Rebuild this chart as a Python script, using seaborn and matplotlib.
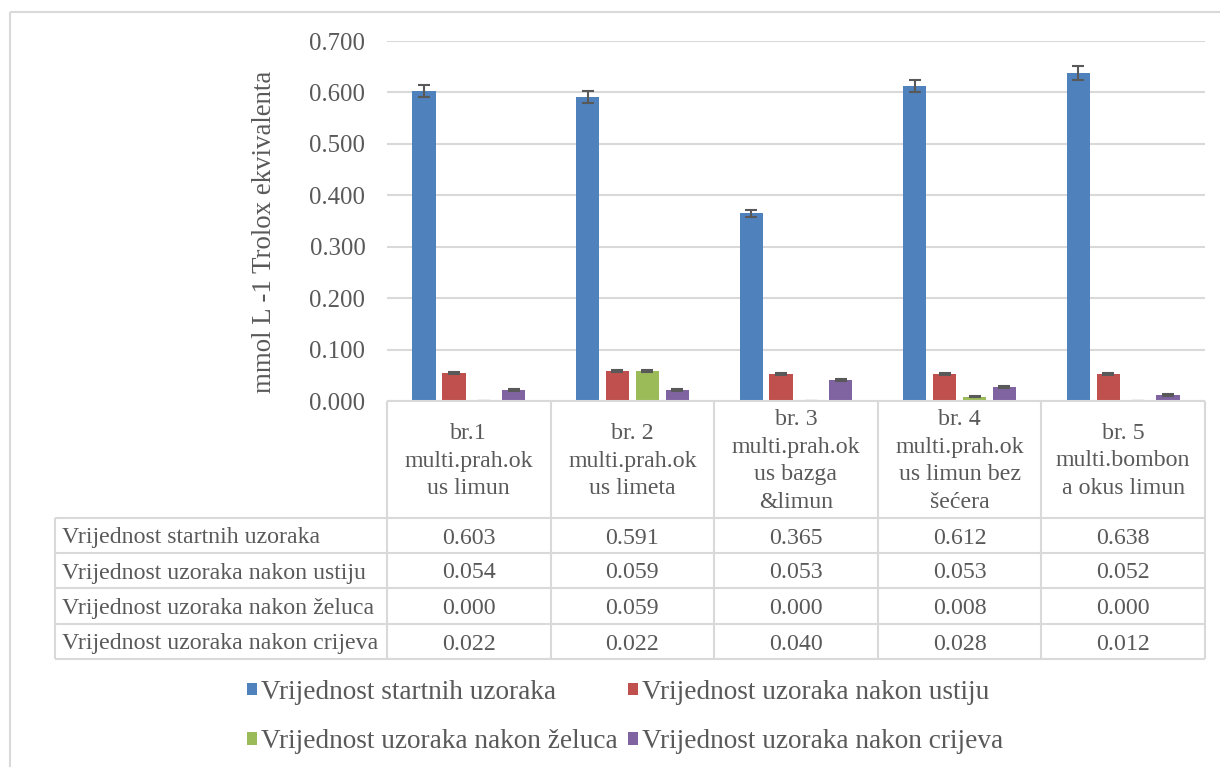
import matplotlib
matplotlib.use("Agg")
import matplotlib.pyplot as plt
import matplotlib.transforms as mtransforms
from matplotlib.lines import Line2D
import seaborn as sns
import pandas as pd

# ---------------- data ----------------
categories = [
    "br.1\nmulti.prah.ok\nus limun",
    "br. 2\nmulti.prah.ok\nus limeta",
    "br. 3\nmulti.prah.ok\nus bazga\n&limun",
    "br. 4\nmulti.prah.ok\nus limun bez\nšećera",
    "br. 5\nmulti.bombon\na okus limun",
]
series_names = [
    "Vrijednost startnih uzoraka",
    "Vrijednost uzoraka nakon ustiju",
    "Vrijednost uzoraka nakon želuca",
    "Vrijednost uzoraka nakon crijeva",
]
startni = [0.603, 0.591, 0.365, 0.612, 0.638]
ustiju = [0.054, 0.059, 0.053, 0.053, 0.052]
zeluca = [0.000, 0.059, 0.000, 0.008, 0.000]
crijeva = [0.022, 0.022, 0.040, 0.028, 0.012]

err_startni = [0.012, 0.012, 0.007, 0.012, 0.013]
err_ustiju = [0.002, 0.002, 0.002, 0.002, 0.002]
err_zeluca = [0.000, 0.002, 0.000, 0.001, 0.000]
err_crijeva = [0.002, 0.002, 0.002, 0.002, 0.002]

y_ticks = [0.0, 0.1, 0.2, 0.3, 0.4, 0.5, 0.6, 0.7]
y_label = "mmol L -1 Trolox ekvivalenta"

colors = ["#4F81BD", "#C0504D", "#9BBB59", "#8064A2"]

all_values = [startni, ustiju, zeluca, crijeva]
all_errs = [err_startni, err_ustiju, err_zeluca, err_crijeva]

df = pd.DataFrame({
    "kategorija": categories * len(series_names),
    "serija": [s for s in series_names for _ in categories],
    "vrijednost": [v for vals in all_values for v in vals],
})

# ---------------- style ----------------
sns.set_theme(style="white")
plt.rcParams["font.family"] = ["Liberation Serif", "DejaVu Serif"]
TXT = "#595959"
GRID = "#D9D9D9"
FS = 17.2

W, H = 1220, 767
fig = plt.figure(figsize=(W / 100, H / 100), dpi=100)


def fx(px):
    return px / W


def fy(py):
    return 1 - py / H


ax_left, ax_right, ax_top, ax_bottom = 387, 1205, 41, 401
ax = fig.add_axes([fx(ax_left), fy(ax_bottom), fx(ax_right - ax_left),
                   (ax_bottom - ax_top) / H])

sns.barplot(data=df, x="kategorija", y="vrijednost", hue="serija",
            order=categories, hue_order=series_names, palette=colors,
            width=0.73, gap=0.22, errorbar=None, ax=ax, saturation=1,
            linewidth=0)

# error bars positioned on the library's bars
for container, errs in zip(ax.containers, all_errs):
    xs = [b.get_x() + b.get_width() / 2 for b in container]
    ys = [b.get_height() for b in container]
    ax.errorbar(xs, ys, yerr=errs, fmt="none", ecolor="#595959",
                elinewidth=1.5, capsize=4.2, capthick=1.5, zorder=5)

handles, labels = ax.get_legend_handles_labels()
if ax.get_legend() is not None:
    ax.get_legend().remove()

ax.set_ylim(0, 0.7)
ax.set_xlim(-0.5, len(categories) - 0.5)
ax.set_yticks(y_ticks)
ax.set_yticklabels([f"{t:.3f}" for t in y_ticks], fontsize=17.8, color=TXT)
ax.tick_params(axis="y", length=0, pad=15.5)
ax.set_xticks([])
ax.set_xlabel("")
ax.set_ylabel(y_label, fontsize=19.4, color=TXT)
ax.yaxis.set_label_coords((277 - ax_left) / (ax_right - ax_left),
                          (ax_bottom - 232) / (ax_bottom - ax_top))
ax.yaxis.grid(True, color=GRID, linewidth=1.5)
ax.set_axisbelow(True)
for sp in ax.spines.values():
    sp.set_visible(False)

# ---------------- data table ----------------
blend = mtransforms.blended_transform_factory(ax.transData, fig.transFigure)
row_edges = [401, 518, 553, 588, 624, 659]
table_left = 55
n = len(categories)


def fline(xs, ys, transform):
    fig.add_artist(Line2D(xs, ys, transform=transform, color=GRID,
                          linewidth=1.5, solid_capstyle="butt"))


# horizontal lines
fline([-0.5, n - 0.5], [fy(row_edges[0])] * 2, blend)
for r in row_edges[1:]:
    fline([fx(table_left), fx(ax_left)], [fy(r)] * 2, fig.transFigure)
    fline([-0.5, n - 0.5], [fy(r)] * 2, blend)
# vertical lines
for i in range(n + 1):
    fline([i - 0.5, i - 0.5], [fy(row_edges[0]), fy(row_edges[-1])], blend)
fline([fx(table_left)] * 2, [fy(row_edges[1]), fy(row_edges[-1])],
      fig.transFigure)

# header text
for i, c in enumerate(categories):
    fig.text(i, fy(461), c, transform=blend, ha="center", va="center",
             fontsize=FS, color=TXT, linespacing=1.42, multialignment="center")

# rows
for r, (name, vals) in enumerate(zip(series_names, all_values)):
    yc = fy((row_edges[r + 1] + row_edges[r + 2]) / 2)
    fig.text(fx(62), yc, name, ha="left", va="center_baseline",
             fontsize=FS, color=TXT)
    for i, v in enumerate(vals):
        fig.text(i, yc, f"{v:.3f}", transform=blend, ha="center",
                 va="center_baseline", fontsize=FS, color=TXT)

# ---------------- legend ----------------
order = [0, 2, 1, 3]
leg = fig.legend([handles[k] for k in order], [labels[k] for k in order],
                 ncol=2, loc="center", bbox_to_anchor=(fx(625), fy(717)),
                 frameon=False, fontsize=19.6, handlelength=0.35,
                 handleheight=0.35, handletextpad=0.15, columnspacing=0.4,
                 labelspacing=0.9, borderaxespad=0, borderpad=0)
for t in leg.get_texts():
    t.set_color(TXT)

# chart-area border (left and top visible)
fline([fx(10), fx(10)], [fy(12), 0], fig.transFigure)
fline([fx(10), 1], [fy(12), fy(12)], fig.transFigure)

fig.savefig("out.png", dpi=100)
